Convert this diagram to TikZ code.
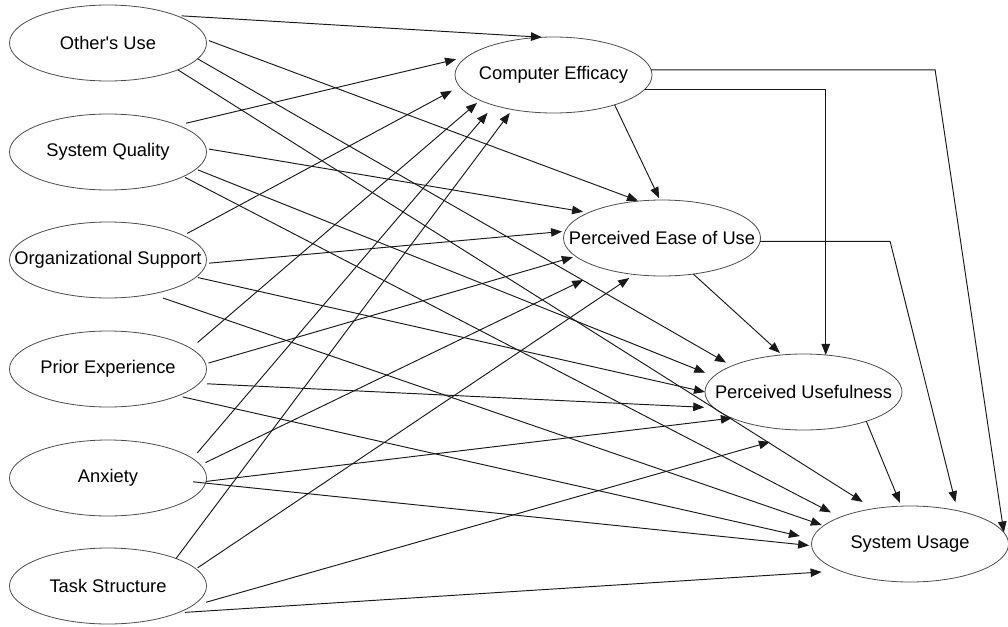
\documentclass[tikz,border=0pt]{standalone}
\usepackage{fontspec}
\setmainfont{Liberation Sans}
\usetikzlibrary{shapes.geometric,arrows.meta}
\tikzset{
  var/.style={ellipse, draw=black!70, line width=0.8pt, minimum width=197pt, minimum height=76pt, inner sep=0pt, outer sep=0pt},
  every label/.style={font=\fontsize{18.3}{22}\selectfont, inner sep=0pt, text=black},
  arr/.style={draw=black!90, line width=0.95pt, -{Triangle[length=11pt,width=8.5pt]}},
}
\begin{document}
\begin{tikzpicture}[x=1pt,y=-1pt]
\useasboundingbox (0,0) rectangle (1008,626);
% left column
\node[var, label={center:Other\XeTeXglyph\XeTeXcharglyph"27\relax s Use}] (ou) at (108,43) {};
\node[var, label={center:System Quality}] (sq) at (108,152) {};
\node[var, label={center:Organizational Support}] (os) at (108,260) {};
\node[var, label={center:Prior Experience}] (pe) at (108,369) {};
\node[var, label={center:Anxiety}] (ax) at (108,478) {};
\node[var, label={center:Task Structure}] (ts) at (108,586) {};
% right side
\node[var, label={center:Computer Efficacy}] (ce) at (553.5,75) {};
\node[var, label={center:Perceived Ease of Use}] (peou) at (662,238) {};
\node[var, label={center:Perceived Usefulness}] (pu) at (803.5,392) {};
\node[var, label={center:System Usage}] (su) at (910,544) {};
% Other's Use
\draw[arr, shorten <=5.7pt] (ou.22.3) -- (ce.107);
\draw[arr, shorten <=3pt, shorten >=1pt] (ou.2.9) -- (peou.122.3);
\draw[arr, shorten >=6.7pt] (ou.-10.7) -- (pu.160.5);
\draw[arr, shorten >=12.7pt] (ou.-21.7) -- (su.136.2);
% System Quality
\draw[arr, shorten <=8.5pt, shorten >=11.5pt] (sq.21.5) -- (ce.168.6);
\draw[arr, shorten <=3pt, shorten >=5.5pt] (sq.2.9) -- (peou.161.2);
\draw[arr, shorten <=2pt, shorten >=9.3pt] (sq.-11.3) -- (pu.170.2);
\draw[arr, shorten <=2pt, shorten >=10.4pt] (sq.-18.7) -- (su.159.8);
% Organizational Support
\draw[arr, shorten <=4.5pt, shorten >=8.8pt] (os.18.6) -- (ce.187.9);
\draw[arr, shorten <=3pt, shorten >=3pt] (os.-2.9) -- (peou.176.9);
\draw[arr, shorten <=2pt] (os.-11.3) -- (pu.180.6);
\draw[arr, shorten <=12pt, shorten >=2pt] (os.-38.3) -- (su.168);
% Prior Experience
\draw[arr, shorten <=9pt, shorten >=4pt] (pe.14.5) -- (ce.199.1);
\draw[arr, shorten <=3pt, shorten >=3pt] (pe.3.4) -- (peou.192);
\draw[arr, shorten <=8pt, shorten >=9.7pt] (pe.-9.9) -- (pu.190.5);
\draw[arr, shorten <=5pt, shorten >=12.8pt] (pe.-21) -- (su.177.5);
% Anxiety
\draw[arr, shorten <=7.5pt, shorten >=10pt] (ax.13.7) -- (ce.207.3);
\draw[arr, shorten <=5.5pt, shorten >=25pt] (ax.8.4) -- (peou.209.6);
\draw[arr] (ax.-2.9) -- (pu.200.8);
\draw[arr, shorten <=-12.5pt, shorten >=2.5pt] (ax.-3.7) -- (su.181.9);
% Task Structure
\draw[arr, shorten >=4.3pt] (ts.22.1) -- (ce.220.2);
\draw[arr, shorten <=2pt, shorten >=6.3pt] (ts.11.3) -- (peou.233.7);
\draw[arr, shorten <=16pt, shorten >=44pt] (ts.-14.9) -- (pu.283);
\draw[arr, shorten <=7pt, shorten >=18.6pt] (ts.-21.9) -- (su.201);
% right-side structure
\draw[arr, shorten >=2pt] (ce.-26.4) -- (peou.93);
\draw[arr] (ce.3.5) -- ++(284,0) -- (su.7.3);
\draw[arr] (ce.-9.4) -| (pu.59.9);
\draw[arr, shorten >=3pt] (peou.-49.8) -- (pu.120.4);
\draw[arr, shorten >=8.8pt] (peou.-2.9) -- ++(130,0) -- (su.35.7);
\draw[arr, shorten >=3.5pt] (pu.-25.5) -- (su.103.3);
\end{tikzpicture}
\end{document}
